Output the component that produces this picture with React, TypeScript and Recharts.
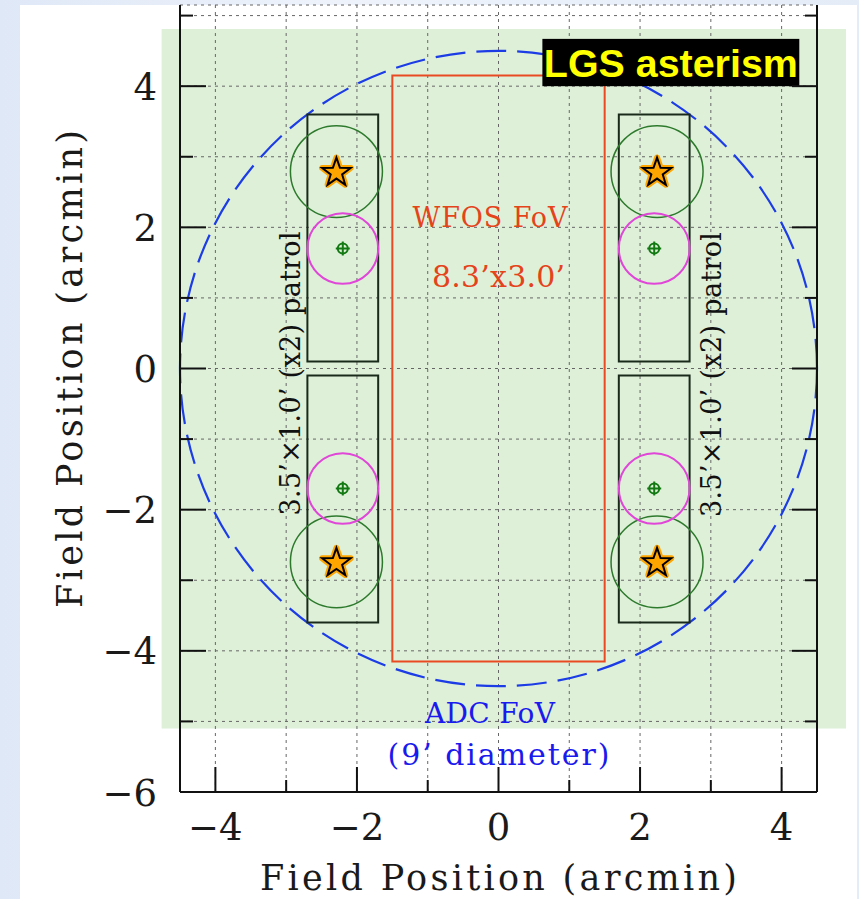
import {
  CartesianGrid,
  ReferenceArea,
  ReferenceDot,
  Scatter,
  ScatterChart,
  XAxis,
  YAxis,
} from "recharts";

const xTicks = [-4, -3, -2, -1, 0, 1, 2, 3, 4];
const yTicks = [-6, -5, -4, -3, -2, -1, 0, 1, 2, 3, 4, 5];
const xDomain = [-4.5, 4.5];
const yDomain = [-6, 5.15];

// LGS stars and the tip-tilt stars that sit next to them
const lgsStars = [
  { x: -2.29, y: 2.79 },
  { x: 2.24, y: 2.79 },
  { x: -2.29, y: -2.74 },
  { x: 2.24, y: -2.74 },
];
const lgsRadius = 0.65;
const ngsStars = [
  { x: -2.2, y: 1.7 },
  { x: 2.2, y: 1.7 },
  { x: -2.2, y: -1.7 },
  { x: 2.2, y: -1.7 },
];
const ngsRadius = 0.5;

const patrolBoxes = [
  { x1: -2.7, x2: -1.7, y1: 0.1, y2: 3.6 },
  { x1: -2.7, x2: -1.7, y1: -3.6, y2: -0.1 },
  { x1: 1.7, x2: 2.7, y1: 0.1, y2: 3.6 },
  { x1: 1.7, x2: 2.7, y1: -3.6, y2: -0.1 },
];
const wfosBox = { x1: -1.5, x2: 1.5, y1: -4.15, y2: 4.15 };
const adcRadius = 4.5;
const shadedRegion = { x1: -4.76, x2: 4.91, y1: -5.1, y2: 4.81 };
const badgeBox = { x1: 0.62, x2: 4.25, y1: 4.0, y2: 4.67 };

const textNotes = [
  { x: -0.12, y: 2.0, text: "WFOS FoV", color: "#e5431a", size: 27, len: 155, rot: false },
  { x: 0, y: 1.15, text: "8.3’x3.0’", color: "#e5431a", size: 30, len: 133, rot: false },
  { x: -0.12, y: -5.02, text: "ADC FoV", color: "#1a1aee", size: 28, len: 130, rot: false },
  { x: 0, y: -5.62, text: "(9’ diameter)", color: "#1a1aee", size: 30, len: 222, rot: false },
  { x: -2.81, y: -0.07, text: "3.5’×1.0’ (x2) patrol", color: "#111", size: 27, len: 284, rot: true },
  { x: 3.14, y: -0.085, text: "3.5’×1.0’ (x2) patrol", color: "#111", size: 27, len: 285, rot: true },
];

const serif = "'DejaVu Serif', serif";

const fmt = (v: number) => (v < 0 ? `\u2212${Math.abs(v)}` : `${v}`);

function ellipse(stroke: string, width: number, dash?: string) {
  return (p: any) => (
    <ellipse
      cx={p.x + p.width / 2}
      cy={p.y + p.height / 2}
      rx={Math.abs(p.width) / 2}
      ry={Math.abs(p.height) / 2}
      fill="none"
      stroke={stroke}
      strokeWidth={width}
      strokeDasharray={dash}
    />
  );
}

function starPoints(cx: number, cy: number, r: number) {
  const pts: string[] = [];
  for (let i = 0; i < 10; i++) {
    const rr = i % 2 === 0 ? r : r * 0.4;
    const a = -Math.PI / 2 + (i * Math.PI) / 5;
    pts.push(`${cx + rr * Math.cos(a)},${cy + rr * Math.sin(a)}`);
  }
  return pts.join(" ");
}

function StarShape(p: any) {
  const pts = starPoints(p.cx, p.cy + 1, 15);
  return (
    <g>
      <polygon points={pts} fill="#ffa500" stroke="#ffa500" strokeWidth={6} strokeLinejoin="round" />
      <polygon points={pts} fill="none" stroke="#000" strokeWidth={2} strokeLinejoin="miter" />
    </g>
  );
}

function CrossShape(p: any) {
  return (
    <g stroke="#137a13" strokeWidth={2} fill="none">
      <circle cx={p.cx} cy={p.cy} r={5} />
      <line x1={p.cx - 7} x2={p.cx + 7} y1={p.cy} y2={p.cy} />
      <line x1={p.cx} x2={p.cx} y1={p.cy - 7} y2={p.cy + 7} />
    </g>
  );
}

function LeftTick(p: any) {
  const v = p.payload.value;
  const major = v % 2 === 0;
  return (
    <g>
      <line x1={p.x} x2={p.x + (major ? 26 : 13)} y1={p.y} y2={p.y} stroke="#111" strokeWidth={2} />
      {major && (
        <text x={p.x - 23} y={p.y + 13.5} textAnchor="end" fontSize={37} fontFamily={serif} fill="#1a1a1a">
          {fmt(v)}
        </text>
      )}
    </g>
  );
}

function RightTick(p: any) {
  const major = p.payload.value % 2 === 0;
  return <line x1={p.x} x2={p.x - (major ? 25 : 12)} y1={p.y} y2={p.y} stroke="#111" strokeWidth={2} />;
}

function BottomTick(p: any) {
  const v = p.payload.value;
  const major = v % 2 === 0;
  return (
    <g>
      <line x1={p.x} x2={p.x} y1={p.y} y2={p.y - (major ? 25 : 12)} stroke="#111" strokeWidth={2} />
      {major && (
        <text x={p.x} y={p.y + 48} textAnchor="middle" fontSize={37} fontFamily={serif} fill="#1a1a1a">
          {fmt(v)}
        </text>
      )}
    </g>
  );
}

export default function App() {
  return (
    <div
      style={{
        position: "absolute",
        left: 0,
        top: 0,
        width: 859,
        height: 899,
        overflow: "hidden",
        background: "linear-gradient(90deg, #dfe8f7 0%, #eef3fb 40%, #e4ecf8 100%)",
      }}
    >
      <div style={{ position: "absolute", left: 20, top: 5, width: 837, height: 894, background: "#fff" }} />
      <div style={{ position: "absolute", left: 0, top: 0 }}>
        <ScatterChart width={859} height={899} margin={{ top: 5, right: 32, bottom: 47, left: 120 }}>
          <ReferenceArea
            {...shadedRegion}
            ifOverflow="visible"
            fill="#def0d8"
            fillOpacity={1}
            stroke="none"
            zIndex={-200}
          />
          <CartesianGrid stroke="#666" strokeDasharray="3 4" strokeWidth={1} />
          <XAxis
            type="number"
            dataKey="x"
            domain={xDomain}
            ticks={xTicks}
            interval={0}
            allowDataOverflow
            height={60}
            axisLine={{ stroke: "#111", strokeWidth: 2 }}
            tickLine={false}
            tickSize={0}
            tickMargin={0}
            tick={BottomTick}
            label={{
              content: (p: any) => (
                <text
                  x={p.viewBox.x + p.viewBox.width / 2}
                  y={p.viewBox.y + 98}
                  textAnchor="middle"
                  fontSize={35}
                  fontFamily={serif}
                  fill="#1a1a1a"
                  textLength={477}
                  lengthAdjust="spacing"
                >
                  Field Position (arcmin)
                </text>
              ),
            }}
          />
          <YAxis
            type="number"
            dataKey="y"
            domain={yDomain}
            ticks={yTicks}
            interval={0}
            allowDataOverflow
            width={60}
            axisLine={{ stroke: "#111", strokeWidth: 2 }}
            tickLine={false}
            tickSize={0}
            tickMargin={0}
            tick={LeftTick}
            label={{
              content: (p: any) => {
                const lx = p.viewBox.x - 38;
                const ly = p.viewBox.y + 364;
                return (
                  <text
                    x={lx}
                    y={ly}
                    transform={`rotate(-90, ${lx}, ${ly})`}
                    textAnchor="middle"
                    fontSize={35}
                    fontFamily={serif}
                    fill="#1a1a1a"
                    textLength={478}
                    lengthAdjust="spacing"
                  >
                    Field Position (arcmin)
                  </text>
                );
              },
            }}
          />
          <YAxis
            yAxisId="r"
            orientation="right"
            type="number"
            domain={yDomain}
            ticks={yTicks}
            interval={0}
            allowDataOverflow
            width={10}
            axisLine={{ stroke: "#111", strokeWidth: 2 }}
            tickLine={false}
            tickSize={0}
            tickMargin={0}
            tick={RightTick}
          />

          <ReferenceArea
            x1={-adcRadius}
            x2={adcRadius}
            y1={-adcRadius}
            y2={adcRadius}
            ifOverflow="visible"
            shape={ellipse("#1c3ce6", 2.2, "30 11")}
          />
          <ReferenceArea
            {...wfosBox}
            ifOverflow="visible"
            fill="none"
            stroke="#ea4a22"
            strokeWidth={2}
          />
          {patrolBoxes.map((b, i) => (
            <ReferenceArea
              key={`box${i}`}
              {...b}
              ifOverflow="visible"
              fill="none"
              stroke="#1a2a1a"
              strokeWidth={2}
            />
          ))}
          {lgsStars.map((s, i) => (
            <ReferenceArea
              key={`lgs${i}`}
              x1={s.x - lgsRadius}
              x2={s.x + lgsRadius}
              y1={s.y - lgsRadius}
              y2={s.y + lgsRadius}
              ifOverflow="visible"
              shape={ellipse("#2d7a2d", 1.5)}
            />
          ))}
          {ngsStars.map((s, i) => (
            <ReferenceArea
              key={`ngs${i}`}
              x1={s.x - ngsRadius}
              x2={s.x + ngsRadius}
              y1={s.y - ngsRadius}
              y2={s.y + ngsRadius}
              ifOverflow="visible"
              shape={ellipse("#e046d8", 2)}
            />
          ))}

          <Scatter data={ngsStars} shape={CrossShape} isAnimationActive={false} />
          <Scatter data={lgsStars} shape={StarShape} isAnimationActive={false} />

          {textNotes.map((t, i) => (
            <ReferenceDot
              key={`t${i}`}
              x={t.x}
              y={t.y}
              ifOverflow="visible"
              shape={(p: any) => (
                <text
                  x={p.cx}
                  y={p.cy}
                  transform={t.rot ? `rotate(-90, ${p.cx}, ${p.cy})` : undefined}
                  textAnchor="middle"
                  fontSize={t.size}
                  fontFamily={serif}
                  fill={t.color}
                  textLength={t.len}
                  lengthAdjust="spacing"
                >
                  {t.text}
                </text>
              )}
            />
          ))}

          <ReferenceArea
            {...badgeBox}
            ifOverflow="visible"
            shape={(p: any) => (
              <g>
                <rect x={p.x} y={p.y} width={p.width} height={p.height} fill="#000" />
                <text
                  x={p.x + p.width / 2}
                  y={p.y + p.height / 2 + 14}
                  textAnchor="middle"
                  fontSize={39}
                  fontWeight="bold"
                  fontFamily="'Liberation Sans', Arial, sans-serif"
                  fill="#ffff00"
                  textLength={254}
                  lengthAdjust="spacingAndGlyphs"
                >
                  LGS asterism
                </text>
              </g>
            )}
          />
        </ScatterChart>
      </div>
    </div>
  );
}
